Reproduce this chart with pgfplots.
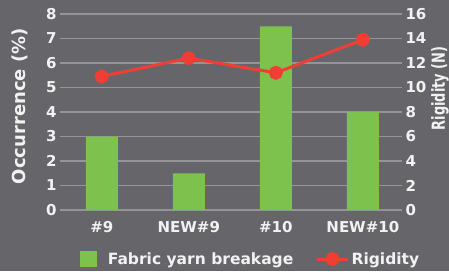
\documentclass[border=0pt]{standalone}
\usepackage{pgfplots}
\pgfplotsset{compat=1.18}
\usepackage{fontspec}
\setmainfont{DejaVu Sans}
\definecolor{bg}{RGB}{102,101,106}
\definecolor{gridc}{RGB}{148,148,153}
\definecolor{bargreen}{RGB}{124,194,77}
\definecolor{linered}{RGB}{240,62,52}
\definecolor{txt}{RGB}{242,242,242}
\pgfplotsset{longline legend/.style={legend image code/.code={\draw[mark repeat=2,mark phase=2,##1] plot coordinates {(0cm,0cm) (0.55cm,0cm) (1.1cm,0cm)};}}}
\begin{document}
\begin{tikzpicture}
\fill[bg] (0pt,0pt) rectangle (449pt,271pt);
\pgfplotsset{
  common/.style={
    at={(60pt,61pt)}, anchor=south west,
    scale only axis, width=342pt, height=196pt,
    xmin=-0.48, xmax=3.45,
    axis line style={draw=none}, tick style={draw=none},
    font=\fontsize{15}{18}\selectfont\bfseries,
    tick label style={text=txt},
    label style={text=txt},
    /pgf/number format/assume math mode=true,
  }
}
\begin{axis}[common,
  ymin=0, ymax=8, ytick={0,1,...,8},
  ymajorgrids, grid style={gridc, line width=1.5pt},
  xtick={0,1,2,3}, xticklabels={\#9,NEW\#9,\#10,NEW\#10},
  xticklabel style={yshift=-8pt},
  ylabel={\fontsize{18}{20}\selectfont\bfseries Occurrence (\%)},
  ylabel style={at={(rel axis cs:0,0.53)}, yshift=40pt, anchor=center},
]
\addplot[ybar, bar width=32pt, bar shift=0pt, fill=bargreen, draw=none]
  coordinates {(0,3) (1,1.5) (2,7.5) (3,4)};
\end{axis}
\begin{axis}[common,
  ymin=0, ymax=16, ytick={0,2,...,16},
  axis y line*=right, hide x axis,
  ylabel={\scalebox{0.72}[1]{\fontsize{18}{20}\selectfont\bfseries Rigidity (N)}},
  ylabel style={at={(rel axis cs:1,0.62)}, yshift=-38pt, anchor=center},
  legend columns=2,
  legend style={at={(0.558,-0.25)}, anchor=center, draw=none, fill=none,
    font=\fontsize{15.5}{18}\selectfont\bfseries,
    text=txt, /tikz/every even column/.append style={column sep=20pt}},
]
\addlegendimage{legend image code/.code={\fill[bargreen] (0pt,-7.5pt) rectangle (16pt,7.5pt); \path (25pt,0pt);}}
\addlegendentry{Fabric yarn breakage}
\addplot[linered, line width=3pt, mark=*, mark size=5.5pt, longline legend]
  coordinates {(0,10.9) (1,12.4) (2,11.2) (3,13.9)};
\addlegendentry{Rigidity}
\end{axis}
\pgfresetboundingbox
\useasboundingbox (0pt,0pt) rectangle (449pt,271pt);
\end{tikzpicture}
\end{document}
